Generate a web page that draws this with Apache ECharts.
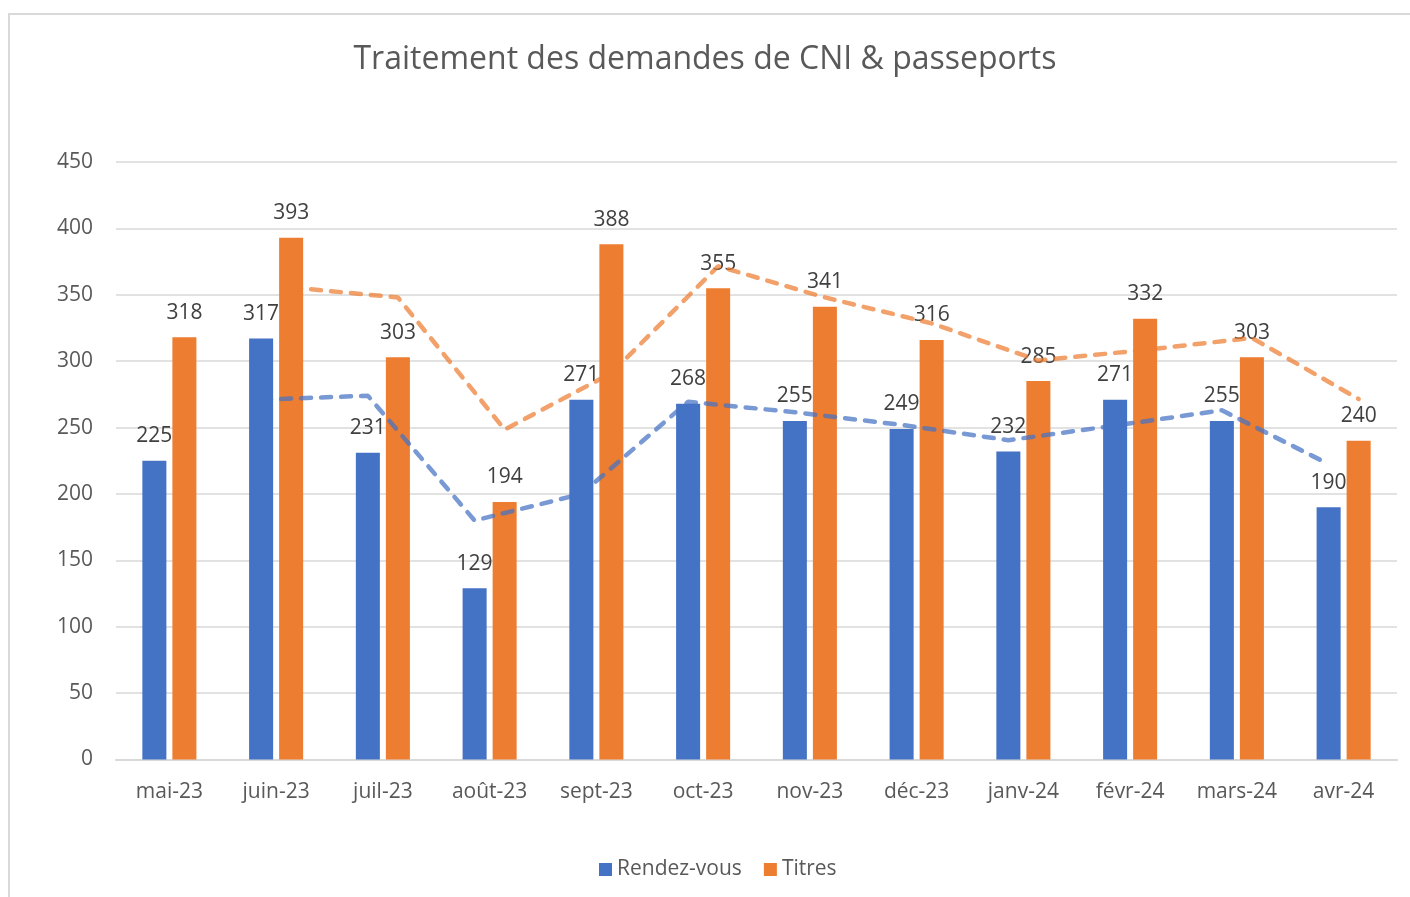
<!DOCTYPE html>
<html>
<head>
<meta charset="utf-8">
<title>Traitement des demandes de CNI & passeports</title>
<script src="https://cdn.jsdelivr.net/npm/echarts@6/dist/echarts.min.js"></script>
<style>
  html, body { margin: 0; padding: 0; background: #fff; }
  #chart { width: 1410px; height: 897px; }
</style>
</head>
<body>
<div id="chart"></div>
<script>
// données
const months = ['mai-23', 'juin-23', 'juil-23', 'août-23', 'sept-23', 'oct-23',
  'nov-23', 'déc-23', 'janv-24', 'févr-24', 'mars-24', 'avr-24'];
const rendezVous = [225, 317, 231, 129, 271, 268, 255, 249, 232, 271, 255, 190];
const titres = [318, 393, 303, 194, 388, 355, 341, 316, 285, 332, 303, 240];
// courbes de tendance (pointillés)
const rdvTrend = [null, 271, 274, 180, 200, 269.5, 261.5, 252, 240.5, 251.5, 263, 222.5];
const titresTrend = [null, 355.5, 348, 248.5, 291, 371.5, 348, 328.5, 300.5, 308.5, 317.5, 271.5];
const yTicks = {min: 0, max: 450, interval: 50};

const BLUE = '#4472C4';
const ORANGE = '#ED7D31';
const TEXT = '#595959';
const FONT = '"Open Sans", Lato, sans-serif';

// largeur des barres / écart (fraction de catégorie) -> décalage des tendances
const barFrac = 0.225;
const gapFrac = 0.25;
const offset = (barFrac + barFrac * gapFrac) / 2;

const toPoints = (arr, shift) => arr
  .map((v, i) => (v == null ? null : [i + shift, v]))
  .filter(p => p);

const chart = echarts.init(document.getElementById('chart'));

const barLabel = {
  show: true,
  position: 'top',
  distance: 14,
  color: '#404040',
  fontSize: 21,
  fontFamily: FONT
};

chart.setOption({
  animation: false,
  textStyle: {fontFamily: FONT},
  title: {
    text: 'Traitement des demandes de CNI & passeports',
    left: 'center',
    top: 39,
    textStyle: {fontSize: 32, fontWeight: 'normal', color: TEXT, fontFamily: FONT}
  },
  graphic: [{
    type: 'rect',
    silent: true,
    shape: {x: 9, y: 14, width: 1440, height: 920},
    style: {fill: 'none', stroke: '#d9d9d9', lineWidth: 2}
  }],
  legend: {
    bottom: 12,
    left: 594,
    data: ['Rendez-vous', 'Titres'],
    icon: 'rect',
    itemWidth: 13,
    itemHeight: 13,
    itemGap: 22,
    textStyle: {fontSize: 21, color: TEXT, fontFamily: FONT}
  },
  grid: {left: 116, right: 13, top: 162, bottom: 137.5},
  xAxis: [
    {
      type: 'category',
      data: months,
      axisTick: {show: false},
      axisLine: {lineStyle: {color: '#d9d9d9', width: 2}},
      axisLabel: {color: TEXT, fontSize: 21, margin: 22, fontFamily: FONT}
    },
    {
      type: 'value',
      min: -0.5,
      max: months.length - 0.5,
      show: false
    }
  ],
  yAxis: {
    type: 'value',
    min: yTicks.min,
    max: yTicks.max,
    interval: yTicks.interval,
    axisLine: {show: false},
    axisTick: {show: false},
    axisLabel: {color: TEXT, fontSize: 21, margin: 23, fontFamily: FONT},
    splitLine: {lineStyle: {color: '#d9d9d9', width: 1.5}}
  },
  series: [
    {
      name: 'Rendez-vous',
      type: 'bar',
      data: rendezVous,
      barWidth: (barFrac * 100) + '%',
      barGap: (gapFrac * 100) + '%',
      itemStyle: {color: BLUE},
      label: barLabel
    },
    {
      name: 'Titres',
      type: 'bar',
      data: titres,
      barWidth: (barFrac * 100) + '%',
      itemStyle: {color: ORANGE},
      label: barLabel
    },
    {
      name: 'Tendance Rendez-vous',
      type: 'line',
      xAxisIndex: 1,
      data: toPoints(rdvTrend, -offset),
      symbol: 'none',
      z: 5,
      lineStyle: {color: BLUE, width: 4.5, opacity: 0.72, type: [10, 10], cap: 'round'}
    },
    {
      name: 'Tendance Titres',
      type: 'line',
      xAxisIndex: 1,
      data: toPoints(titresTrend, offset),
      symbol: 'none',
      z: 5,
      lineStyle: {color: ORANGE, width: 4.5, opacity: 0.72, type: [10, 10], cap: 'round'}
    }
  ]
});
</script>
</body>
</html>
